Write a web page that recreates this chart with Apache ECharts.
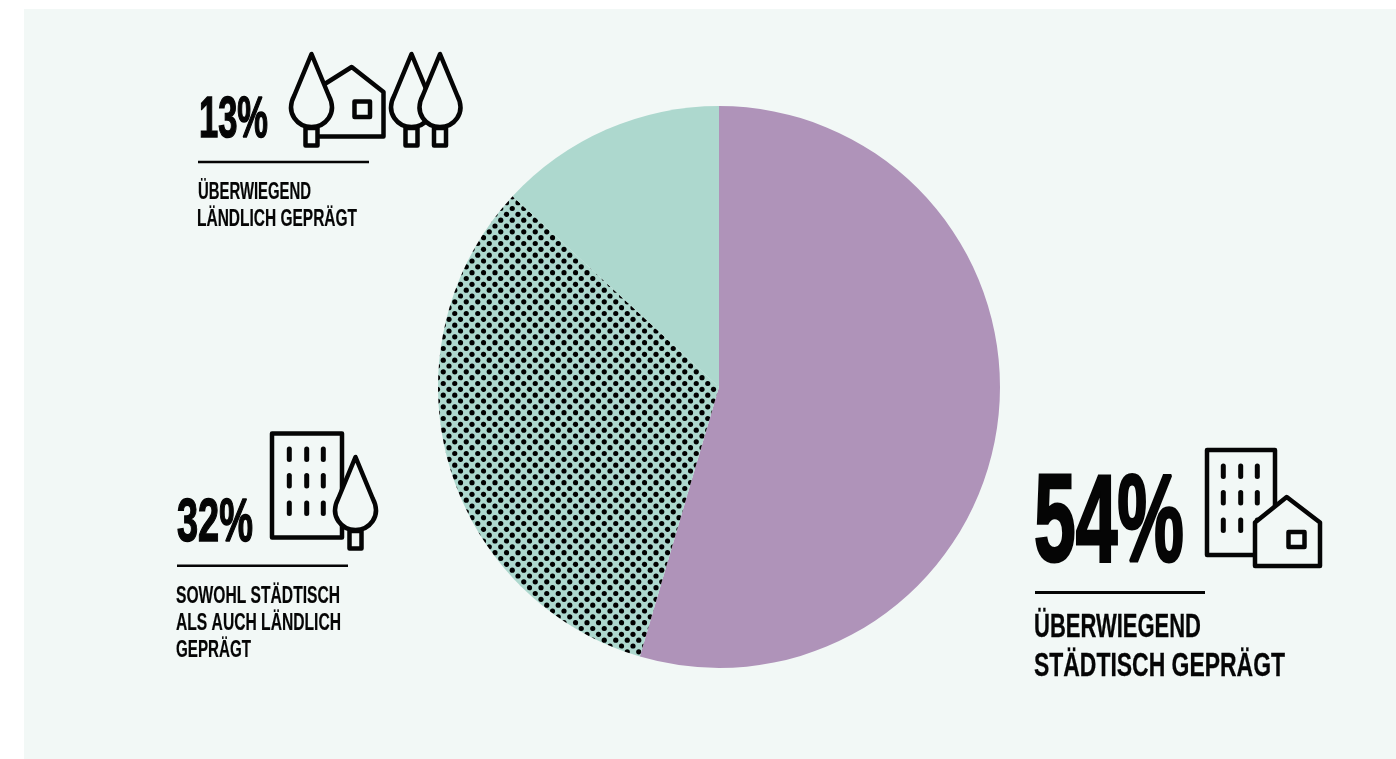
<!DOCTYPE html>
<html lang="de">
<head>
<meta charset="utf-8">
<title>Siedlungsstruktur</title>
<style>
  html, body { margin: 0; padding: 0; background: #fff; }
  #chart { width: 1396px; height: 759px; }
</style>
<script src="https://cdn.jsdelivr.net/npm/echarts@6/dist/echarts.min.js"></script>
</head>
<body>
<div id="chart"></div>
<script>
// Anteile der Raumtypen in Prozent (im Uhrzeigersinn ab 12 Uhr)
const categories = ['Überwiegend städtisch geprägt', 'Sowohl städtisch als auch ländlich geprägt', 'Überwiegend ländlich geprägt'];
const shares = [54, 32, 13];
const labelLines = [
  ['ÜBERWIEGEND', 'STÄDTISCH GEPRÄGT'],
  ['SOWOHL STÄDTISCH', 'ALS AUCH LÄNDLICH', 'GEPRÄGT'],
  ['ÜBERWIEGEND', 'LÄNDLICH GEPRÄGT']
];

const INK = '#050505';
const PANEL = '#f2f8f6';
const PURPLE = '#af93b9';
const MINT = '#add8ce';
const FONT = '"Liberation Sans Narrow", "Liberation Sans", sans-serif';

// Baumkrone als eigene Form: Spitze oben, Tropfen nach unten
echarts.graphic.registerShape('treeCrown', echarts.graphic.extendShape({
  type: 'treeCrown',
  shape: { cx: 0, tip: 0 },
  buildPath(ctx, s) {
    ctx.moveTo(s.cx, s.tip);
    ctx.lineTo(s.cx - 17, s.tip + 41);
    ctx.bezierCurveTo(s.cx - 27, s.tip + 60, s.cx - 13, s.tip + 73, s.cx, s.tip + 73);
    ctx.bezierCurveTo(s.cx + 13, s.tip + 73, s.cx + 27, s.tip + 60, s.cx + 17, s.tip + 41);
    ctx.closePath();
  }
}));

// Punktraster auf Mint als wiederholte Kachel
function dotTile() {
  const w = 23, h = 35, c = document.createElement('canvas');
  c.width = w; c.height = h;
  const g = c.getContext('2d');
  g.fillStyle = MINT;
  g.fillRect(0, 0, w, h);
  g.fillStyle = '#000';
  for (let r = -8; r <= 8; r++) {
    for (let k = -6; k <= 6; k++) {
      g.beginPath();
      g.arc(12 + r * 5.75 + k * 11.5, 16 + r * 35 / 6, 2.6, 0, Math.PI * 2);
      g.fill();
    }
  }
  return c;
}

const stroke = (w) => ({ stroke: INK, lineWidth: w, lineJoin: 'round', lineCap: 'round' });

function tree(cx, tipY) {
  return [
    { type: 'rect', z: 3, shape: { x: cx - 6, y: tipY + 74, width: 12, height: 17.5 }, style: { fill: PANEL, ...stroke(4.5) } },
    { type: 'treeCrown', z: 3, shape: { cx, tip: tipY }, style: { fill: PANEL, ...stroke(4.5) } }
  ];
}

function house(pts, win) {
  return [
    { type: 'polygon', z: 2, shape: { points: pts }, style: { fill: PANEL, ...stroke(4.5) } },
    { type: 'rect', z: 2, shape: win, style: { fill: 'none', ...stroke(4.5) } }
  ];
}

function tower(x, y, w, h, xs, rows) {
  const out = [{ type: 'rect', z: 1, shape: { x, y, width: w, height: h }, style: { fill: 'none', ...stroke(4.5) } }];
  rows.forEach((ry) => xs.forEach((wx) => {
    out.push({ type: 'line', z: 1, shape: { x1: wx, y1: ry, x2: wx, y2: ry + 10.5 }, style: stroke(5) });
  }));
  return out;
}

function rule(x1, x2, y, w) {
  return { type: 'line', shape: { x1, y1: y, x2, y2: y }, style: { stroke: INK, lineWidth: w } };
}

// Einzelne Textzeile, horizontal auf die Zielbreite gestaucht
function line(text, x, y, size, width, bold) {
  const m = document.createElement('canvas').getContext('2d');
  const font = `bold ${size}px ${FONT}`;
  m.font = font;
  const sx = width / m.measureText(text).width;
  return {
    type: 'text', x, y, scaleX: sx, z: 5,
    style: { text, font, fill: INK, stroke: INK, lineWidth: bold, textAlign: 'left', textVerticalAlign: 'middle' }
  };
}

const graphics = [
  { type: 'rect', z: -1, silent: true, shape: { x: 24, y: 9, width: 1372, height: 750 }, style: { fill: PANEL } },

  // 54 %
  line(shares[0] + '%', 1034, 527, 124, 150, 3),
  rule(1035, 1205, 592.5, 2.8),
  line(labelLines[0][0], 1034, 628, 33, 167, 0.3),
  line(labelLines[0][1], 1034, 666.5, 33, 251, 0.3),
  ...tower(1207, 450, 68, 105, [1223.3, 1240.7, 1257.3], [466, 492.5, 520]),
  ...house([[1286.7, 497], [1320, 522.5], [1320, 566], [1255, 566], [1255, 522.5]], { x: 1288.5, y: 532, width: 16, height: 15 }),

  // 32 %
  line(shares[1] + '%', 177, 524, 61, 76, 1.5),
  rule(177, 348, 565.7, 2.4),
  line(labelLines[1][0], 176, 596, 24, 164, 0.2),
  line(labelLines[1][1], 176, 623, 24, 165, 0.2),
  line(labelLines[1][2], 176, 650, 24, 75, 0.2),
  ...tower(272, 433.5, 70, 104, [289.3, 306.7, 323.3], [449, 475.5, 503]),
  ...tree(355.5, 457),

  // 13 %
  line(shares[2] + '%', 199, 121, 58, 69, 1.5),
  rule(198, 369, 162, 2.4),
  line(labelLines[2][0], 198, 192, 24, 113, 0.2),
  line(labelLines[2][1], 197, 219, 24, 160, 0.2),
  ...house([[351.7, 67], [383.5, 92], [383.5, 136.5], [312, 136.5], [312, 92]], { x: 354.5, y: 101.5, width: 15.5, height: 15.5 }),
  ...tree(311.5, 54),
  ...tree(411.5, 54),
  ...tree(440, 54)
];

const chart = echarts.init(document.getElementById('chart'), null, { renderer: 'canvas' });
chart.setOption({
  animation: false,
  backgroundColor: '#ffffff',
  graphic: { elements: graphics },
  series: [{
    type: 'pie',
    center: [719, 387],
    radius: [0, 281],
    startAngle: 90,
    clockwise: true,
    silent: true,
    label: { show: false },
    labelLine: { show: false },
    data: categories.map((name, i) => ({
      name,
      value: shares[i],
      itemStyle: { color: [PURPLE, { image: dotTile(), repeat: 'repeat' }, MINT][i] }
    }))
  }]
});
</script>
</body>
</html>
